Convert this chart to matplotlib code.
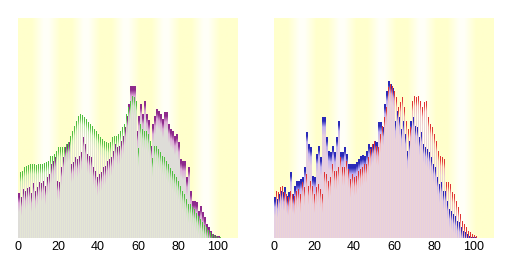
import matplotlib

matplotlib.use("Agg")

import matplotlib.pyplot as plt
import numpy as np
from matplotlib.colors import to_rgb


AGES = list(range(101))

# left chart: current year (purple) and an earlier year (green), by single year of age
CURRENT = [
    44.7, 40.7, 49.0, 47.3, 50.0, 50.7, 44.7, 54.7, 47.3, 50.7,
    55.7, 54.7, 56.7, 52.3, 60.7, 64.0, 74.0, 77.3, 80.7, 57.3,
    55.7, 70.7, 80.7, 90.7, 94.0, 95.7, 74.0, 75.7, 80.7, 79.0,
    82.3, 85.7, 100.7, 94.0, 84.0, 82.3, 80.7, 70.7, 67.3, 60.7,
    64.0, 65.7, 70.7, 72.3, 77.3, 79.0, 80.7, 87.3, 94.0, 90.7,
    92.3, 97.3, 102.3, 110.7, 122.3, 134.0, 152.3, 152.3, 152.3, 107.3,
    122.3, 134.0, 124.0, 136.7, 124.0, 118.3, 92.3, 114.0, 122.3, 129.0,
    127.3, 124.0, 119.0, 125.7, 125.7, 114.0, 109.0, 107.3, 102.3, 104.0,
    95.7, 79.0, 77.3, 77.3, 60.7, 70.7, 47.3, 37.3, 37.3, 35.7,
    27.3, 32.3, 25.7, 20.7, 14.0, 10.7, 7.3, 4.0, 3.3, 2.3,
    2.0,
]
EARLIER = [
    65.7, 67.3, 70.7, 72.3, 73.3, 74.0, 74.0, 74.0, 73.3, 74.0,
    74.0, 74.0, 74.7, 75.7, 77.3, 82.3, 82.3, 84.0, 87.3, 90.7,
    90.7, 91.3, 91.3, 94.0, 95.7, 102.3, 107.3, 112.3, 117.3, 122.3,
    124.0, 123.3, 120.7, 119.0, 115.7, 114.0, 112.3, 109.0, 107.3, 104.0,
    100.7, 99.0, 97.3, 95.7, 94.7, 95.7, 100.7, 102.3, 102.3, 104.0,
    107.3, 110.7, 114.0, 124.0, 130.7, 137.3, 142.3, 140.7, 137.3, 90.0,
    114.0, 109.0, 107.5, 107.5, 104.0, 97.5, 80.0, 92.5, 92.5, 89.0,
    86.0, 82.5, 80.8, 77.5, 74.0, 70.0, 67.5, 64.0, 60.8, 57.5,
    52.5, 47.5, 44.0, 39.0, 34.0, 34.0, 31.0, 29.0, 25.0, 22.0,
    19.0, 16.0, 13.0, 11.0, 8.0, 6.0, 4.0, 3.0, 2.0, 1.0,
    1.0,
]

# right chart: male (blue) and female (red)
MALE = [
    40.7, 39.0, 44.0, 47.3, 45.7, 50.7, 42.3, 45.7, 65.7, 44.0,
    52.3, 57.3, 57.3, 59.0, 60.7, 70.7, 105.7, 94.0, 90.7, 62.3,
    60.7, 84.0, 92.3, 80.7, 120.7, 120.7, 100.7, 87.3, 85.7, 92.3,
    85.7, 100.7, 117.3, 85.7, 85.7, 90.7, 84.0, 74.0, 74.0, 74.0,
    74.0, 75.7, 79.0, 82.3, 83.3, 82.3, 87.3, 94.0, 90.7, 94.0,
    97.3, 95.7, 115.7, 115.7, 110.7, 134.0, 147.3, 157.3, 154.0, 150.0,
    117.3, 127.3, 120.7, 109.0, 117.3, 104.0, 87.3, 97.3, 117.3, 120.7,
    112.3, 110.7, 100.7, 105.7, 94.0, 90.7, 89.0, 85.7, 80.7, 74.0,
    70.7, 60.7, 54.0, 55.7, 47.3, 47.3, 37.3, 29.0, 27.3, 24.0,
    22.3, 17.3, 15.7, 10.7, 7.3, 5.7, 4.0, 2.3, 1.3, 0.7,
    0.7,
]
FEMALE = [
    47.3, 45.7, 50.7, 52.3, 45.7, 44.0, 40.7, 47.3, 44.0, 42.3,
    47.3, 49.0, 44.0, 55.7, 50.7, 64.0, 52.3, 57.3, 52.3, 44.0,
    50.7, 54.0, 49.0, 44.0, 65.7, 64.0, 57.3, 60.7, 74.0, 67.3,
    67.3, 70.7, 80.7, 70.7, 70.7, 77.3, 69.0, 59.0, 64.0, 60.7,
    62.3, 67.3, 69.0, 70.7, 74.0, 74.0, 80.7, 89.0, 94.0, 97.3,
    92.3, 90.7, 104.0, 112.3, 120.7, 130.7, 150.7, 154.0, 152.3, 147.3,
    140.7, 130.7, 135.7, 140.7, 130.7, 117.3, 109.0, 110.7, 137.3, 142.3,
    140.7, 142.3, 137.3, 130.7, 135.7, 137.3, 120.7, 114.0, 110.7, 104.0,
    97.3, 87.3, 82.3, 80.7, 79.0, 55.7, 55.7, 54.0, 45.7, 44.0,
    37.3, 30.7, 24.0, 17.3, 14.0, 10.7, 7.3, 5.7, 4.0, 3.3,
    2.3,
]

XTICKS = [0, 20, 40, 60, 80, 100]

BG_YELLOW = to_rgb("#ffffcc")
BG_LIGHT_CENTERS = [14, 34, 54, 74, 94]
FADE_STEPS = 20
PX = 72 / 100  # one pixel in points at dpi 100


def draw_background(ax):
    xs = np.linspace(0, 110, 441)
    w = np.zeros_like(xs)
    for c in BG_LIGHT_CENTERS:
        w = np.maximum(w, np.clip(1.2 - np.abs(xs - c) / 6.0, 0, 1))
    img = np.array(BG_YELLOW) * (1 - w[:, None]) + np.array([1.0, 1.0, 0.97]) * w[:, None]
    ax.imshow(img[None, :, :], extent=(0, 110, 0, 220), aspect="auto",
              interpolation="bilinear", zorder=0)


def fade_color(d, top, mid, body):
    t1 = np.clip((d - 4.0) / 6.0, 0, 1)
    t2 = np.clip((d - 10.0) / 9.0, 0, 1)
    col = top * (1 - t1) + mid * t1
    return col * (1 - t2) + body * t2


def draw_bars(ax, values, offset, width_px, top, mid, body, z):
    top, mid, body = (np.array(to_rgb(c)) for c in (top, mid, body))
    x = np.array(AGES) + offset
    h = np.array(values)
    lw = width_px * PX
    # pale body of each bar
    body_h = np.clip(h - FADE_STEPS, 0, None)
    ax.vlines(x, 0, body_h, colors=[body], linewidth=lw,
              antialiased=False, zorder=z)
    # coloured tip fading downwards, one unit at a time
    for k in range(FADE_STEPS):
        lo = np.clip(h - k - 1, 0, None)
        hi = np.clip(h - k, 0, None)
        ax.vlines(x, lo, hi, colors=[fade_color(k + 0.5, top, mid, body)],
                  linewidth=lw, antialiased=False, zorder=z)


def style_axes(ax):
    ax.set_xlim(0, 110)
    ax.set_ylim(0, 220)
    ax.set_xticks(XTICKS)
    ax.set_xticklabels([str(t) for t in XTICKS])
    ax.set_yticks([])
    ax.tick_params(axis="x", length=0, pad=2, labelsize=9)
    for spine in ax.spines.values():
        spine.set_visible(False)


def main():
    plt.rcParams["font.family"] = ["Liberation Sans", "DejaVu Sans"]
    fig = plt.figure(figsize=(5.12, 2.56), dpi=100)

    # first series fills the whole 2 px slot, second series sits on top in its right half
    ax1 = fig.add_axes([18 / 512, 18 / 256, 220 / 512, 220 / 256])
    draw_background(ax1)
    draw_bars(ax1, CURRENT, 0.5, 2, "#8e2a8c", "#dcaad6", "#deddd8", 2)
    draw_bars(ax1, EARLIER, 0.75, 1, "#50c040", "#c0e8b0", "#e4e6d4", 3)
    style_axes(ax1)

    ax2 = fig.add_axes([274 / 512, 18 / 256, 220 / 512, 220 / 256])
    draw_background(ax2)
    draw_bars(ax2, MALE, 0.5, 2, "#2a2ab8", "#c0b0f0", "#e6cfe0", 2)
    draw_bars(ax2, FEMALE, 0.75, 1, "#e03434", "#f4b0b0", "#ecd4d6", 3)
    style_axes(ax2)

    fig.savefig("out.png", dpi=100)
    plt.close(fig)


if __name__ == "__main__":
    main()
